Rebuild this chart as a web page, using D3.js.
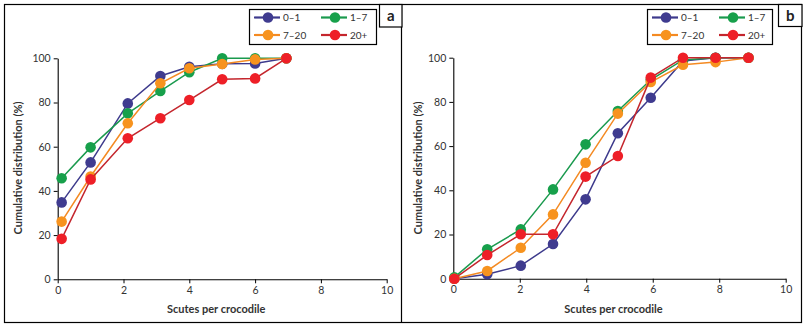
<!DOCTYPE html>
<html>
<head>
<meta charset="utf-8">
<script src="https://cdn.jsdelivr.net/npm/d3@7"></script>
<style>
  body { margin: 0; background: #fff; }
  svg text { font-family: Lato, "Open Sans", sans-serif; }
</style>
</head>
<body>
<div id="chart"></div>
<script>
// datos
const seriesNames = ["0\u20131", "1\u20137", "7\u201320", "20+"];
const markerColors = ["#3f3b8f", "#17a04b", "#f7931e", "#ee1f27"];
const lineColors = ["#3d3a8c", "#1a9a4e", "#f48a22", "#c4262d"];

const xTicks = [0, 2, 4, 6, 8, 10];
const yTicks = [0, 20, 40, 60, 80, 100];

// panel a
const xA = [0.12, 1.0, 2.13, 3.12, 4.0, 5.0, 6.0, 6.95];
const a01 = [34.8, 52.9, 79.6, 92.0, 96.2, 97.5, 97.7, 100];
const a17 = [45.7, 59.7, 75.1, 85.2, 93.7, 100, 100, 100];
const a720 = [26.1, 46.5, 70.6, 88.7, 95.5, 97.4, 99.5, 100];
const a20 = [18.3, 45.2, 63.8, 72.9, 81.1, 90.5, 90.9, 100];

// panel b
const xB = [0.03, 1.02, 2.03, 3.0, 3.98, 4.95, 5.94, 6.91, 7.89, 8.88];
const b01 = [0, 2.0, 5.9, 15.7, 35.9, 65.8, 81.9, 98.5, 100, 100];
const b17 = [0.6, 13.3, 22.3, 40.4, 60.8, 75.9, 90.0, 99.0, 100, 100];
const b720 = [0, 3.5, 14.0, 29.1, 52.5, 74.7, 89.0, 96.8, 98.0, 100];
const b20 = [0, 10.7, 20.1, 20.1, 46.2, 55.5, 91.0, 100, 100, 100];

const W = 804, H = 324;
const svg = d3.select("#chart").append("svg")
    .attr("width", W)
    .attr("height", H);

// marcos exteriores
svg.append("rect")
    .attr("x", 4.5).attr("y", 4.5)
    .attr("width", 797).attr("height", 318)
    .attr("fill", "none").attr("stroke", "#000").attr("stroke-width", 1.2);
svg.append("line")
    .attr("x1", 401.5).attr("x2", 401.5).attr("y1", 4.5).attr("y2", 322.5)
    .attr("stroke", "#000").attr("stroke-width", 1.2);

const panels = [
    { xs: xA, ys: [a01, a17, a720, a20], left: 57.7, right: 386.7, top: 58.3, bottom: 279.3,
      legend: { x: 249, y: 9, w: 127, h: 35 }, tag: { x: 379, y: 4.5, w: 22.5, h: 22.5, text: "a" }, ylabX: 18 },
    { xs: xB, ys: [b01, b17, b720, b20], left: 453.3, right: 785.7, top: 57.7, bottom: 278.7,
      legend: { x: 647, y: 9, w: 125, h: 35 }, tag: { x: 778, y: 4.5, w: 23.5, h: 22, text: "b" }, ylabX: 418 }
];

panels.forEach(p => {
    const x = d3.scaleLinear().domain([0, 10]).range([p.left, p.right]);
    const y = d3.scaleLinear().domain([0, 100]).range([p.bottom, p.top]);

    // ejes
    const gx = svg.append("g")
        .attr("transform", `translate(0,${p.bottom})`)
        .call(d3.axisBottom(x).tickValues(xTicks).tickSize(4).tickSizeOuter(0).tickPadding(3));
    const gy = svg.append("g")
        .attr("transform", `translate(${p.left},0)`)
        .call(d3.axisLeft(y).tickValues(yTicks).tickSize(4).tickSizeOuter(0).tickPadding(3));
    [gx, gy].forEach(g => {
        g.selectAll("text").attr("font-size", 10.5).attr("fill", "#333")
            .style("font-family", "Lato, sans-serif");
        g.select(".domain").attr("stroke", "#000").attr("stroke-width", 1.1);
        g.selectAll(".tick line").attr("stroke", "#000");
    });

    svg.append("text")
        .attr("x", (p.left + p.right) / 2 - 6)
        .attr("y", 313)
        .attr("text-anchor", "middle")
        .attr("font-size", 11).attr("font-weight", "bold").attr("fill", "#333")
        .text("Scutes per crocodile");

    svg.append("text")
        .attr("transform", `translate(${p.ylabX + 4},168) rotate(-90)`)
        .attr("text-anchor", "middle")
        .attr("font-size", 11).attr("font-weight", "bold").attr("fill", "#333")
        .text("Cumulative distribution (%)");

    // series
    const line = d3.line().x(d => x(d[0])).y(d => y(d[1]));
    p.ys.forEach((vals, i) => {
        const pts = p.xs.map((xv, j) => [xv, vals[j]]);
        svg.append("path")
            .datum(pts)
            .attr("d", line)
            .attr("fill", "none")
            .attr("stroke", lineColors[i])
            .attr("stroke-width", 1.5);
        svg.selectAll(null)
            .data(pts)
            .enter().append("circle")
            .attr("cx", d => x(d[0]))
            .attr("cy", d => y(d[1]))
            .attr("r", 5.3)
            .attr("fill", markerColors[i]);
    });

    // leyenda
    const L = p.legend;
    svg.append("rect")
        .attr("x", L.x + 0.5).attr("y", L.y + 0.5)
        .attr("width", L.w).attr("height", L.h)
        .attr("fill", "#fff").attr("stroke", "#000").attr("stroke-width", 1.2);
    seriesNames.forEach((name, i) => {
        const col = i % 2, row = Math.floor(i / 2);
        const ox = L.x + (col === 0 ? 5 : 72);
        const oy = L.y + (row === 0 ? 8.5 : 26);
        svg.append("line")
            .attr("x1", ox).attr("x2", ox + 26).attr("y1", oy).attr("y2", oy)
            .attr("stroke", lineColors[i]).attr("stroke-width", 2.2);
        svg.append("circle")
            .attr("cx", ox + 14).attr("cy", oy).attr("r", 5.3)
            .attr("fill", markerColors[i]);
        svg.append("text")
            .attr("x", ox + 29).attr("y", oy + 3.5)
            .attr("font-size", 10).attr("fill", "#333")
            .text(name);
    });

    // etiqueta del panel
    const T = p.tag;
    svg.append("rect")
        .attr("x", T.x + 0.5).attr("y", T.y)
        .attr("width", T.w).attr("height", T.h)
        .attr("fill", "#fff").attr("stroke", "#000").attr("stroke-width", 1.2);
    svg.append("text")
        .attr("x", T.x + T.w / 2 + 0.5).attr("y", T.y + 16)
        .attr("text-anchor", "middle")
        .attr("font-size", 15).attr("font-weight", "bold").attr("fill", "#222")
        .text(T.text);
});
</script>
</body>
</html>
